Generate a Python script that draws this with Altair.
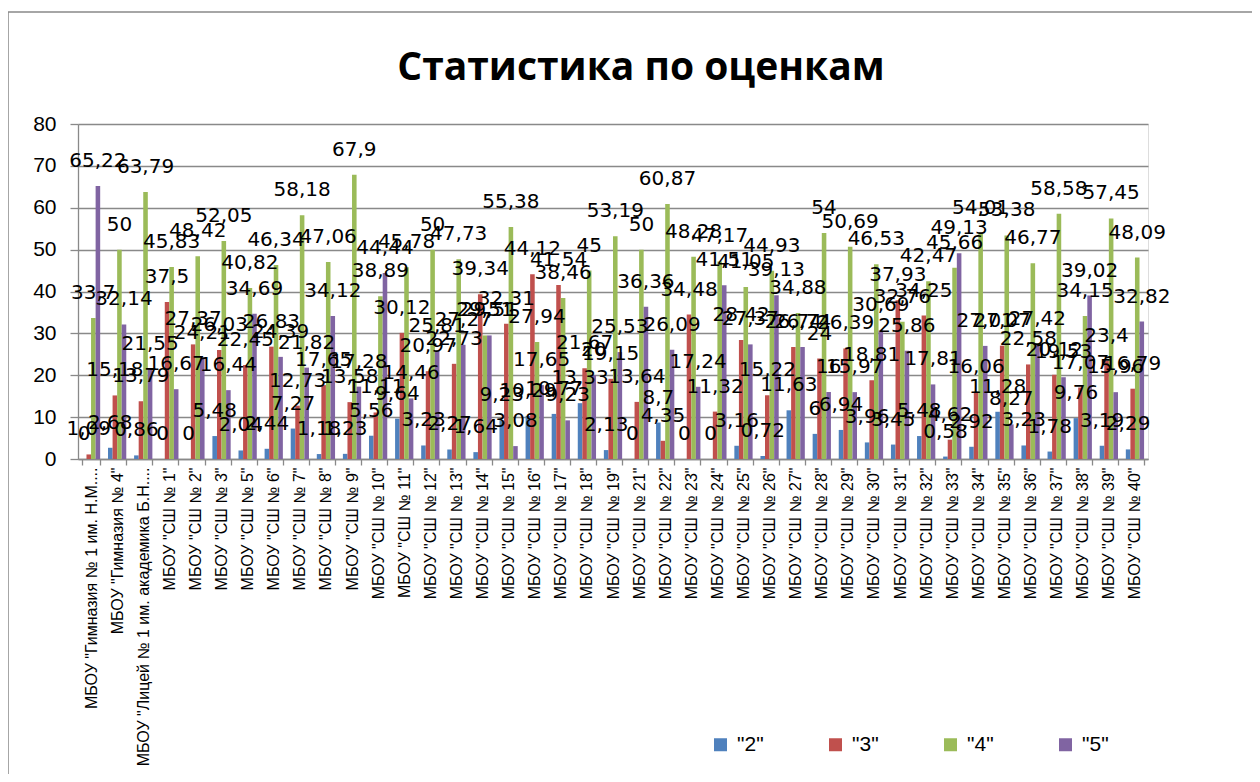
import altair as alt
import pandas as pd

categories = [
    'МБОУ "Гимназия № 1 им. Н.М....',
    'МБОУ "Гимназия № 4"\u00a0\u00a0',
    'МБОУ "Лицей № 1 им. академика Б.Н....',
    'МБОУ "СШ № 1"', 'МБОУ "СШ № 2"', 'МБОУ "СШ № 3"', 'МБОУ "СШ № 5"',
    'МБОУ "СШ № 6"', 'МБОУ "СШ № 7"', 'МБОУ "СШ № 8"', 'МБОУ "СШ № 9"',
    'МБОУ "СШ № 10"', 'МБОУ "СШ № 11"', 'МБОУ "СШ № 12"', 'МБОУ "СШ № 13"',
    'МБОУ "СШ № 14"', 'МБОУ "СШ № 15"', 'МБОУ "СШ № 16"', 'МБОУ "СШ № 17"',
    'МБОУ "СШ № 18"', 'МБОУ "СШ № 19"', 'МБОУ "СШ № 21"', 'МБОУ "СШ № 22"',
    'МБОУ "СШ № 23"', 'МБОУ "СШ № 24"', 'МБОУ "СШ № 25"', 'МБОУ "СШ № 26"',
    'МБОУ "СШ № 27"', 'МБОУ "СШ № 28"', 'МБОУ "СШ № 29"', 'МБОУ "СШ № 30"',
    'МБОУ "СШ № 31"', 'МБОУ "СШ № 32"', 'МБОУ "СШ № 33"', 'МБОУ "СШ № 34"',
    'МБОУ "СШ № 35"', 'МБОУ "СШ № 36"', 'МБОУ "СШ № 37"', 'МБОУ "СШ № 38"',
    'МБОУ "СШ № 39"', 'МБОУ "СШ № 40"',
]

series = ['"2"', '"3"', '"4"', '"5"']
colors = ["#4F81BD", "#C0504D", "#9BBB59", "#8064A2"]

v2 = [0, 2.68, 0.86, 0, 0, 5.48, 2.04, 2.44, 7.27, 1.18, 1.23, 5.56, 9.64, 3.23,
      2.27, 1.64, 9.23, 10.29, 10.77, 13.33, 2.13, 0, 8.7, 0, 0, 3.16, 0.72, 11.63,
      6, 6.94, 3.96, 3.45, 5.48, 0.58, 2.92, 11.28, 3.23, 1.78, 9.76, 3.19, 2.29]
v3 = [1.09, 15.18, 13.79, 37.5, 27.37, 26.03, 22.45, 26.83, 12.73, 17.65, 13.58,
      11.11, 30.12, 20.97, 22.73, 39.34, 32.31, 44.12, 41.54, 21.67, 19.15, 13.64,
      4.35, 34.48, 11.32, 28.42, 15.22, 26.74, 24, 26.39, 18.81, 37.93, 34.25, 4.62,
      16.06, 27.07, 22.58, 20.12, 17.07, 23.4, 16.79]
v4 = [33.7, 50, 63.79, 45.83, 48.42, 52.05, 40.82, 46.34, 58.18, 47.06, 67.9,
      38.89, 45.78, 50, 47.73, 29.51, 55.38, 27.94, 38.46, 45, 53.19, 50, 60.87,
      48.28, 47.17, 41.05, 44.93, 34.88, 54, 50.69, 46.53, 32.76, 42.47, 45.66,
      54.01, 53.38, 46.77, 58.58, 34.15, 57.45, 48.09]
v5 = [65.22, 32.14, 21.55, 16.67, 24.21, 16.44, 34.69, 24.39, 21.82, 34.12, 17.28,
      44.44, 14.46, 25.81, 27.27, 29.51, 3.08, 17.65, 9.23, 20, 25.53, 36.36, 26.09,
      17.24, 41.51, 27.37, 39.13, 26.74, 16, 15.97, 30.69, 25.86, 17.81, 49.13,
      27.01, 8.27, 27.42, 19.53, 39.02, 15.96, 32.82]

title_text = "Статистика по оценкам"

rows = []
for i, c in enumerate(categories):
    for s, vals in zip(series, [v2, v3, v4, v5]):
        v = vals[i]
        rows.append({"school": c, "grade": s, "value": v,
                     "label": f"{v:g}".replace(".", ",")})
df = pd.DataFrame(rows)

GRAY = "#898989"

x_enc = alt.X(
    "school:N", sort=categories, title=None,
    scale=alt.Scale(paddingInner=0.3, paddingOuter=0.15),
    axis=alt.Axis(labelAngle=-90, labelFont="Liberation Sans", labelFontSize=16,
                  labelColor="black", tickBand="extent", domainColor=GRAY,
                  tickColor=GRAY, tickSize=6, labelLimit=400, labelPadding=2,
                  domainWidth=1.3, tickWidth=1.3),
)
y_enc = alt.Y(
    "value:Q", title=None,
    scale=alt.Scale(domain=[0, 80], nice=False),
    axis=alt.Axis(values=list(range(0, 81, 10)), grid=True, gridColor=GRAY,
                  gridWidth=1.3, domainColor=GRAY, tickColor=GRAY, tickSize=8,
                  labelFont="Liberation Sans", labelFontSize=21, labelColor="black",
                  labelPadding=14, domainWidth=1.3, tickWidth=1.3),
)
xoff = alt.XOffset("grade:N", sort=series,
                   scale=alt.Scale(paddingInner=0, paddingOuter=0))

base = alt.Chart(df)

bars = base.mark_bar().encode(
    x=x_enc, y=y_enc, xOffset=xoff,
    color=alt.Color(
        "grade:N", sort=series,
        scale=alt.Scale(domain=series, range=colors),
        legend=alt.Legend(orient="none", legendX=632, legendY=610,
                          direction="horizontal", title=None, symbolType="square",
                          symbolSize=169, symbolStrokeWidth=0,
                          labelFont="Liberation Sans", labelFontSize=21,
                          labelColor="black", columnPadding=61, labelOffset=6),
    ),
)

labels = base.mark_text(font="DejaVu Sans", fontSize=20, baseline="alphabetic",
                        dy=-19, color="black").encode(
    x=x_enc, y=y_enc, xOffset=xoff, text="label:N",
)

single = pd.DataFrame({"t": [title_text]})
title = alt.Chart(single).mark_text(
    font="Open Sans", fontSize=39, fontWeight="bold", baseline="alphabetic",
    align="center", color="black",
).encode(x=alt.value(563), y=alt.value(-44), text="t:N")

top_border = alt.Chart(single).mark_rule(color=GRAY, strokeWidth=1.5).encode(
    x=alt.value(-70), x2=alt.value(1174), y=alt.value(-112))
left_border = alt.Chart(single).mark_rule(color=GRAY, strokeWidth=1.5).encode(
    x=alt.value(-70), y=alt.value(-112), y2=alt.value(660))

chart = alt.layer(top_border, left_border, title, bars, labels).properties(
    width=1070, height=335,
    autosize=alt.AutoSizeParams(type="none"),
    padding={"left": 70, "top": 116, "right": 104, "bottom": 315},
).configure_view(stroke=None).configure(background="white")

chart.save("out.html", embed_options={"renderer": "svg", "actions": False})
